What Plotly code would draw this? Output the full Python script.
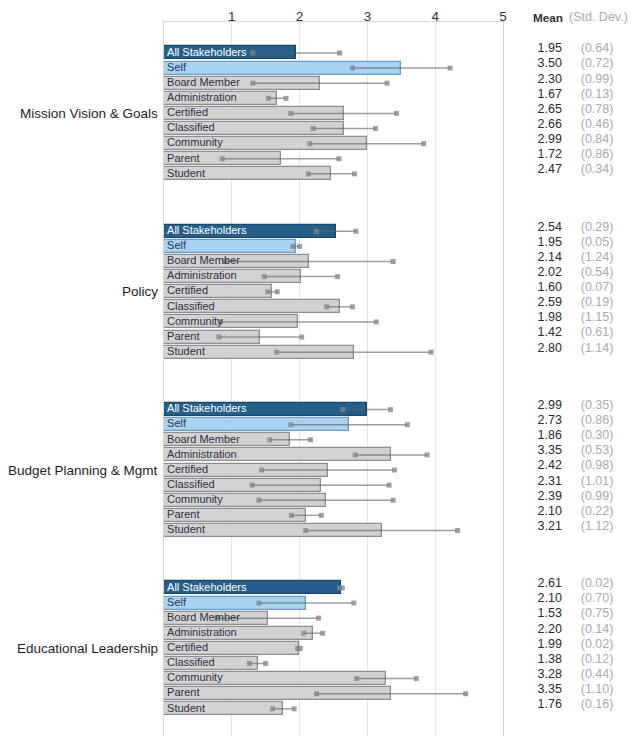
import plotly.graph_objects as go

groups = ["Mission Vision & Goals", "Policy", "Budget Planning & Mgmt", "Educational Leadership"]
stakeholders = ["All Stakeholders", "Self", "Board Member", "Administration", "Certified",
                "Classified", "Community", "Parent", "Student"]

mission_mean = [1.95, 3.50, 2.30, 1.67, 2.65, 2.66, 2.99, 1.72, 2.47]
mission_sd = [0.64, 0.72, 0.99, 0.13, 0.78, 0.46, 0.84, 0.86, 0.34]
policy_mean = [2.54, 1.95, 2.14, 2.02, 1.60, 2.59, 1.98, 1.42, 2.80]
policy_sd = [0.29, 0.05, 1.24, 0.54, 0.07, 0.19, 1.15, 0.61, 1.14]
budget_mean = [2.99, 2.73, 1.86, 3.35, 2.42, 2.31, 2.39, 2.10, 3.21]
budget_sd = [0.35, 0.86, 0.30, 0.53, 0.98, 1.01, 0.99, 0.22, 1.12]
edlead_mean = [2.61, 2.10, 1.53, 2.20, 1.99, 1.38, 3.28, 3.35, 1.76]
edlead_sd = [0.02, 0.70, 0.75, 0.14, 0.02, 0.12, 0.44, 1.10, 0.16]

x_ticks = [1, 2, 3, 4, 5]

means = [mission_mean, policy_mean, budget_mean, edlead_mean]
sds = [mission_sd, policy_sd, budget_sd, edlead_sd]

GROUP_STEP = 11.8
FONT = "Liberation Sans"

ys, xs, sd_all, labels, fills, lines, tcolors = [], [], [], [], [], [], []
for g in range(len(groups)):
    for i, s in enumerate(stakeholders):
        ys.append(g * GROUP_STEP + i)
        xs.append(means[g][i])
        sd_all.append(sds[g][i])
        labels.append(s)
        if i == 0:
            fills.append("#26608a"); lines.append("#1b4868"); tcolors.append("#ffffff")
        elif i == 1:
            fills.append("#a9d3f3"); lines.append("#6f9cc0"); tcolors.append("#2c3550")
        else:
            fills.append("#d2d2d2"); lines.append("#8e8e8e"); tcolors.append("#2c3040")

fig = go.Figure()

fig.add_trace(go.Bar(
    x=xs, y=ys, orientation="h", width=0.86,
    marker=dict(color=fills, line=dict(color=lines, width=1.3)),
    hoverinfo="skip", showlegend=False,
))

fig.add_trace(go.Scatter(
    x=xs, y=ys, mode="markers", marker=dict(size=1, opacity=0),
    error_x=dict(type="data", array=sd_all, visible=True, color="rgba(95,95,95,0.6)",
                 thickness=1.5, width=0),
    hoverinfo="skip", showlegend=False,
))

lo = [m - s for m, s in zip(xs, sd_all)]
hi = [m + s for m, s in zip(xs, sd_all)]
fig.add_trace(go.Scatter(
    x=lo + hi, y=ys + ys, mode="markers",
    marker=dict(symbol="square", size=5, color="rgba(130,130,130,0.75)"),
    hoverinfo="skip", showlegend=False,
))

fig.add_trace(go.Scatter(
    x=[0.045] * len(ys), y=ys, mode="text", text=labels, textposition="middle right",
    textfont=dict(family=FONT, size=11, color=tcolors),
    hoverinfo="skip", showlegend=False, cliponaxis=False,
))

ys_txt = [y - 0.25 for y in ys]
fig.add_trace(go.Scatter(
    x=[0.44] * len(ys), y=ys_txt, xaxis="x2", mode="text",
    text=[f"{m:.2f}" for m in xs], textposition="middle left",
    textfont=dict(family=FONT, size=12.5, color="#2a2a2a"),
    hoverinfo="skip", showlegend=False, cliponaxis=False,
))
fig.add_trace(go.Scatter(
    x=[0.58] * len(ys), y=ys_txt, xaxis="x2", mode="text",
    text=[f"({s:.2f})" for s in sd_all], textposition="middle right",
    textfont=dict(family=FONT, size=12.5, color="#ababab"),
    hoverinfo="skip", showlegend=False, cliponaxis=False,
))

annotations = []
for g, name in enumerate(groups):
    annotations.append(dict(
        x=0, xref="paper", y=g * GROUP_STEP + 4, yref="y", text=name,
        xanchor="right", yanchor="middle", xshift=-4, showarrow=False,
        font=dict(family=FONT, size=13.5, color="#1e1e1e"),
    ))
annotations.append(dict(
    x=0.463, xref="x2", y=1, yref="paper", yshift=5, text="<b>Mean</b>",
    xanchor="right", yanchor="middle", showarrow=False,
    font=dict(family=FONT, size=11.75, color="#333333"),
))
annotations.append(dict(
    x=0.478, xref="x2", y=1, yref="paper", yshift=5, text="(Std. Dev.)",
    xanchor="left", yanchor="middle", showarrow=False,
    font=dict(family=FONT, size=12.5, color="#ababab"),
))

main_dom = 339 / 473
fig.update_layout(
    width=629, height=728,
    margin=dict(l=156, r=0, t=14, b=0),
    paper_bgcolor="white", plot_bgcolor="white",
    bargap=0,
    xaxis=dict(domain=[0, main_dom], range=[0, 5], side="top", tickvals=x_ticks,
               showgrid=True, gridcolor="#e4e4e4", gridwidth=1, zeroline=False,
               showline=True, linecolor="#d4d4d4", linewidth=1, mirror=True,
               ticks="", automargin=False, ticklabelstandoff=-5,
               tickfont=dict(family=FONT, size=13.5, color="#333333")),
    xaxis2=dict(domain=[main_dom, 1], range=[0, 1], showgrid=False, zeroline=False,
                showticklabels=False, showline=False, anchor="y", automargin=False),
    yaxis=dict(range=[45.2, -2.05], showticklabels=False, showgrid=False, zeroline=False,
               showline=True, linecolor="#d4d4d4", linewidth=1, mirror=True, ticks="",
               automargin=False),
    annotations=annotations,
)

fig.write_html("out.html")
